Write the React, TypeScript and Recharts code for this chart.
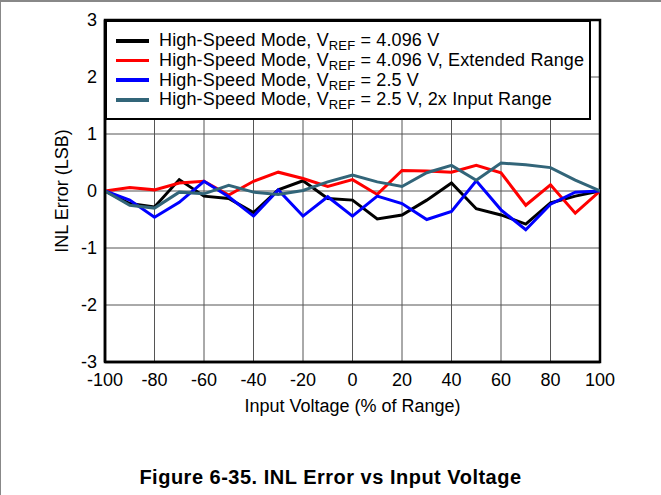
import React from 'react';
import {
  LineChart,
  Line,
  XAxis,
  YAxis,
  CartesianGrid,
  Legend,
  ReferenceArea,
  Label,
} from 'recharts';

// Input voltage, % of range
const inputPct = [-100, -90, -80, -70, -60, -50, -40, -30, -20, -10, 0, 10, 20, 30, 40, 50, 60, 70, 80, 90, 100];

// INL error (LSB) per curve
const vref4096 = [0, -0.22, -0.28, 0.2, -0.09, -0.13, -0.38, 0.02, 0.18, -0.13, -0.16, -0.49, -0.42, -0.16, 0.14, -0.31, -0.42, -0.58, -0.21, -0.09, 0];
const vref4096Ext = [0, 0.06, 0.02, 0.14, 0.17, -0.07, 0.17, 0.33, 0.22, 0.08, 0.2, -0.06, 0.36, 0.35, 0.33, 0.45, 0.32, -0.25, 0.11, -0.39, 0];
const vref25 = [0, -0.16, -0.46, -0.2, 0.17, -0.1, -0.44, 0.02, -0.44, -0.1, -0.44, -0.09, -0.22, -0.5, -0.36, 0.18, -0.33, -0.68, -0.23, -0.02, 0];
const vref25x2 = [0, -0.25, -0.3, -0.02, -0.05, 0.1, -0.02, -0.06, 0.01, 0.16, 0.28, 0.16, 0.08, 0.32, 0.45, 0.19, 0.49, 0.46, 0.41, 0.19, 0];

const xTicks = [-100, -80, -60, -40, -20, 0, 20, 40, 60, 80, 100];
const yTicks = [-3, -2, -1, 0, 1, 2, 3];

const series = [
  { key: 'a', color: '#000000', vref: '4.096 V', suffix: '' },
  { key: 'b', color: '#ff0000', vref: '4.096 V', suffix: ', Extended Range' },
  { key: 'c', color: '#0000ff', vref: '2.5 V', suffix: '' },
  { key: 'd', color: '#326579', vref: '2.5 V', suffix: ', 2x Input Range' },
];

const data = inputPct.map((x, i) => ({
  x,
  a: vref4096[i],
  b: vref4096Ext[i],
  c: vref25[i],
  d: vref25x2[i],
}));

const FONT = '"Liberation Sans", Arial, sans-serif';

const LegendBox = () => (
  <div
    style={{
      width: 486,
      height: 100,
      boxSizing: 'border-box',
      border: '2.5px solid #000',
      background: '#fff',
      paddingTop: 9,
      fontFamily: FONT,
      fontSize: 18,
      letterSpacing: 0.15,
      color: '#000',
    }}
  >
    {series.map((s) => (
      <div key={s.key} style={{ display: 'flex', alignItems: 'center', height: 19.7, whiteSpace: 'nowrap' }}>
        <div style={{ marginLeft: 9, width: 33, height: 3.5, background: s.color }} />
        <span style={{ marginLeft: 10 }}>
          High-Speed Mode, V<span style={{ fontSize: 13, position: 'relative', top: 4 }}>REF</span> = {s.vref}
          {s.suffix}
        </span>
      </div>
    ))}
  </div>
);

const YTitle = (props: any) => {
  const { viewBox } = props;
  const cx = viewBox.x + 62;
  const cy = viewBox.y + viewBox.height / 2;
  return (
    <text
      x={cx}
      y={cy}
      transform={`rotate(-90, ${cx}, ${cy})`}
      textAnchor="middle"
      dominantBaseline="central"
      fontFamily={FONT}
      fontSize={18}
      fill="#000"
    >
      INL Error (LSB)
    </text>
  );
};

export default function App() {
  return (
    <div
      style={{
        position: 'fixed',
        left: 0,
        top: 0,
        width: 661,
        height: 495,
        background: '#fff',
        boxSizing: 'border-box',
        borderTop: '2px solid #888',
        borderLeft: '1px solid #888',
      }}
    >
      <div style={{ position: 'absolute', left: -1, top: -2 }}>
        <LineChart width={661} height={495} data={data} margin={{ top: 20, right: 61, left: 0, bottom: 79 }}>
          <CartesianGrid stroke="#555" strokeWidth={1} horizontalValues={yTicks} verticalValues={xTicks} />
          <XAxis
            dataKey="x"
            type="number"
            domain={[-100, 100]}
            ticks={xTicks}
            tickLine={false}
            axisLine={{ stroke: '#000', strokeWidth: 2.5 }}
            tickMargin={5}
            height={54}
            tick={{ fill: '#000', fontSize: 18, fontFamily: FONT }}
            allowDataOverflow
          >
            <Label
              value="Input Voltage (% of Range)"
              position="insideBottom"
              offset={4}
              style={{ fill: '#000', fontSize: 18, fontFamily: FONT }}
            />
          </XAxis>
          <YAxis
            type="number"
            domain={[-3, 3]}
            ticks={yTicks}
            tickLine={false}
            axisLine={{ stroke: '#000', strokeWidth: 2.5 }}
            width={105}
            tick={{ fill: '#000', fontSize: 18, fontFamily: FONT }}
            allowDataOverflow
          >
            <Label content={<YTitle />} />
          </YAxis>
          <ReferenceArea x1={-100} x2={100} y1={-3} y2={3} fill="none" stroke="#000" strokeWidth={2.5} ifOverflow="visible" />
          {series.map((s) => (
            <Line
              key={s.key}
              type="linear"
              dataKey={s.key}
              stroke={s.color}
              strokeWidth={3}
              dot={false}
              activeDot={false}
              isAnimationActive={false}
            />
          ))}
          <Legend
            layout="vertical"
            align="center"
            verticalAlign="middle"
            content={<LegendBox />}
            wrapperStyle={{ position: 'absolute', top: 20, left: 105, width: 486, height: 100 }}
          />
        </LineChart>
      </div>
      <div
        style={{
          position: 'absolute',
          left: -1,
          top: 464,
          width: 661,
          textAlign: 'center',
          fontFamily: FONT,
          fontWeight: 'bold',
          fontSize: 20,
          letterSpacing: 0.5,
          color: '#000',
        }}
      >
        Figure 6-35. INL Error vs Input Voltage
      </div>
    </div>
  );
}
